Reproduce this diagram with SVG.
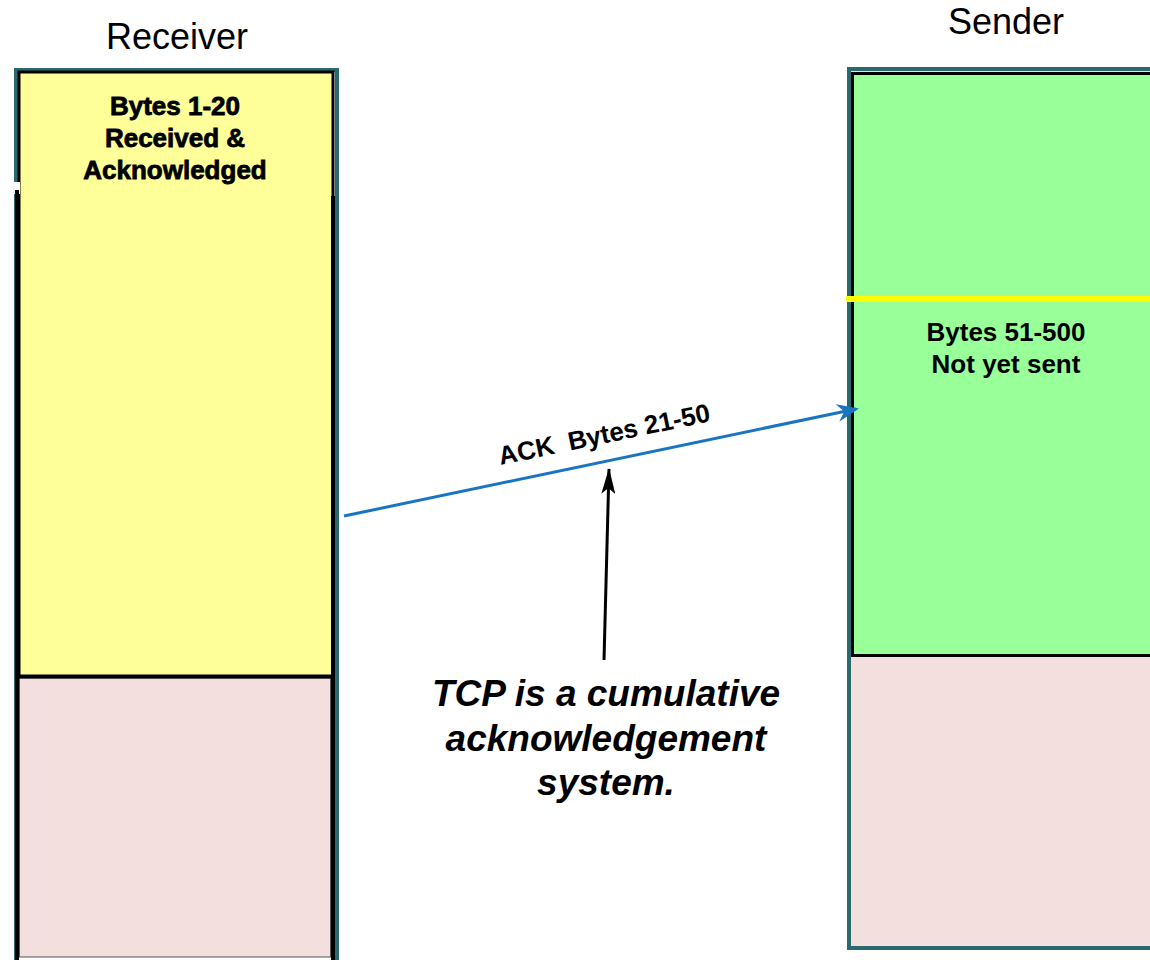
<svg xmlns="http://www.w3.org/2000/svg" width="1150" height="960" viewBox="0 0 1150 960">
<style>
.t{font-family:"Liberation Sans",Arial,Helvetica,sans-serif;fill:#000}
.b{font-weight:bold;font-size:26px;text-anchor:middle}
.h{font-size:36px;text-anchor:middle}
.i{font-weight:bold;font-style:italic;font-size:37px;text-anchor:middle}
.frame{fill:none;stroke:#2a6a6f;stroke-width:4}
</style>
<defs>
<marker id="ab" markerWidth="22" markerHeight="18" refX="19" refY="9" orient="auto" markerUnits="userSpaceOnUse">
<path d="M0,0 L22,9 L0,18 L7,9 Z" fill="#1a74c4"/>
</marker>
<marker id="ak" markerWidth="26" markerHeight="14" refX="25" refY="7" orient="auto" markerUnits="userSpaceOnUse">
<path d="M0,0 L26,7 L0,14 L6,7 Z" fill="#000"/>
</marker>
</defs>
<rect width="1150" height="960" fill="#fff"/>
<g id="receiver">
<rect x="16" y="70" width="321" height="895" class="frame"/>
<rect x="19" y="72" width="314" height="604" fill="#ffff99" stroke="#000" stroke-width="3"/>
<rect x="14" y="182" width="6" height="12" fill="#fff"/>
<line x1="17" y1="190" x2="17" y2="960" stroke="#000" stroke-width="4"/>
<rect x="19.5" y="678" width="311" height="279" fill="#f3e0de" stroke="#555" stroke-width="1"/>
<line x1="333" y1="196" x2="333" y2="960" stroke="#000" stroke-width="4"/>
<line x1="17" y1="677" x2="333" y2="677" stroke="#000" stroke-width="3"/>
<text class="t h" x="177" y="49">Receiver</text>
<text class="t b" x="175" y="115" stroke="#000" stroke-width="0.8">Bytes 1-20</text>
<text class="t b" x="175" y="147" stroke="#000" stroke-width="0.8">Received &amp;</text>
<text class="t b" x="175" y="179" stroke="#000" stroke-width="0.8">Acknowledged</text>
</g>
<g id="sender">
<rect x="849" y="69" width="330" height="879" fill="#f3e0de"/>
<rect x="849" y="69" width="330" height="879" class="frame"/>
<rect x="852.5" y="73.5" width="310" height="582" fill="#99ff99" stroke="#000" stroke-width="3"/>
<line x1="846" y1="299" x2="1150" y2="299" stroke="#ffff00" stroke-width="6"/>
<text class="t h" x="1006" y="34">Sender</text>
<text class="t b" x="1006" y="341">Bytes 51-500</text>
<text class="t b" x="1006" y="373">Not yet sent</text>
</g>
<g id="connectors">
<line x1="344" y1="516" x2="856" y2="409" stroke="#1a74c4" stroke-width="3" marker-end="url(#ab)"/>
<text class="t b" x="606" y="443" font-size="25" transform="rotate(-11.8 606 443)" xml:space="preserve">ACK  Bytes 21-50</text>
<line x1="604" y1="660" x2="609" y2="469" stroke="#000" stroke-width="3" marker-end="url(#ak)"/>
</g>
<g id="note">
<text class="t i" x="606" y="706">TCP is a cumulative</text>
<text class="t i" x="606" y="751">acknowledgement</text>
<text class="t i" x="606" y="795">system.</text>
</g>
</svg>
